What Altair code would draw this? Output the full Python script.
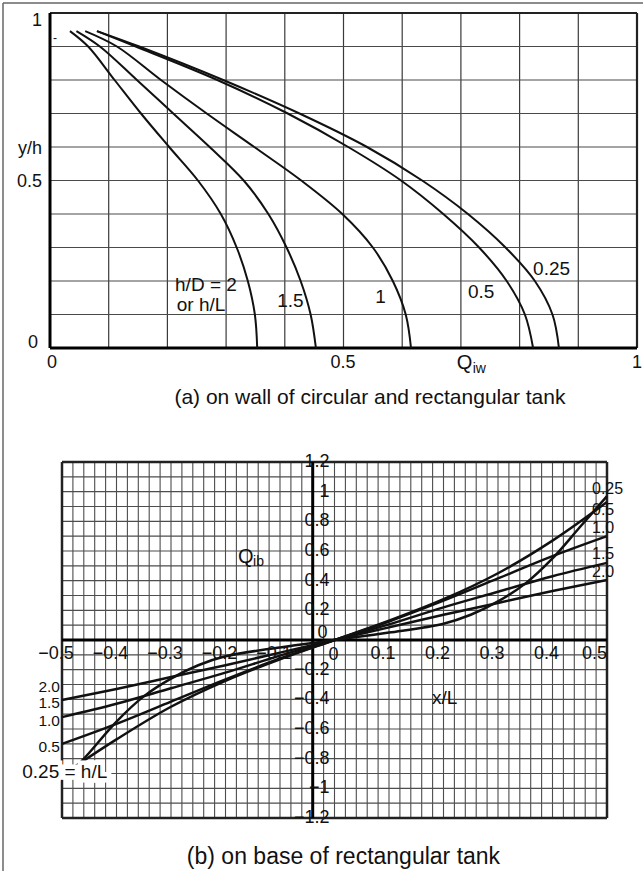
import altair as alt
import pandas as pd

FONT = "Liberation Sans"

# ---------------- panel (a): Q_iw on wall ----------------
a_y = [0.946, 0.9, 0.8, 0.7, 0.6, 0.5, 0.4, 0.3, 0.2, 0.1, 0.0]
a_x_hd2 = [0.034, 0.065, 0.110, 0.155, 0.203, 0.252, 0.291, 0.318, 0.337, 0.349, 0.353]
a_x_hd15 = [0.045, 0.085, 0.148, 0.210, 0.272, 0.330, 0.372, 0.403, 0.427, 0.444, 0.453]
a_x_hd1 = [0.060, 0.114, 0.189, 0.267, 0.348, 0.428, 0.498, 0.550, 0.584, 0.606, 0.615]
a_x_hd05 = [0.080, 0.146, 0.285, 0.405, 0.508, 0.598, 0.670, 0.731, 0.778, 0.809, 0.823]
a_x_hd025 = [0.080, 0.152, 0.295, 0.425, 0.540, 0.634, 0.712, 0.776, 0.826, 0.856, 0.867]
a_series = ["2", "1.5", "1", "0.5", "0.25"]

# ---------------- panel (b): Q_ib on base ----------------
b_x = [-0.5, -0.4, -0.3, -0.2, -0.1, 0.0, 0.1, 0.2, 0.3, 0.4, 0.5]
b_q20 = [-0.405, -0.33, -0.25, -0.17, -0.085, 0.0, 0.085, 0.17, 0.25, 0.33, 0.405]
b_q15 = [-0.52, -0.43, -0.325, -0.22, -0.105, 0.0, 0.105, 0.22, 0.325, 0.43, 0.52]
b_q10 = [-0.70, -0.565, -0.415, -0.265, -0.125, 0.0, 0.125, 0.265, 0.415, 0.565, 0.70]
b_x05 = [-0.475, -0.4, -0.3, -0.2, -0.1, 0.0, 0.1, 0.2, 0.3, 0.4, 0.5]
b_q05 = [-0.85, -0.67, -0.45, -0.275, -0.13, 0.0, 0.13, 0.275, 0.45, 0.67, 0.93]
b_x025 = [-0.475, -0.45, -0.4, -0.35, -0.3, -0.25, -0.2, -0.1, 0.0, 0.1, 0.2, 0.25, 0.3, 0.35, 0.4, 0.45, 0.5]
b_q025 = [-0.86, -0.76, -0.55, -0.38, -0.26, -0.17, -0.11, -0.05, 0.0, 0.05, 0.11, 0.17, 0.26, 0.38, 0.55, 0.76, 0.97]

# grid / tick definitions (data space)
a_grid = [round(0.1 * i, 1) for i in range(1, 10)]
b_grid_x = [round(-0.5 + 0.02 * i, 2) for i in range(1, 50)]
b_grid_y = [round(-1.2 + 0.1 * j, 1) for j in range(1, 24)]
b_xtick_vals = [-0.5, -0.4, -0.3, -0.2, -0.1, 0.1, 0.2, 0.3, 0.4]
b_xtick_text = ["\u22120.5", "\u22120.4", "\u22120.3", "\u22120.2", "\u22120.1", "0.1", "0.2", "0.3", "0.4"]
b_ytick_vals = [1.2, 1.0, 0.8, 0.6, 0.4, 0.2, -0.2, -0.4, -0.6, -0.8, -1.0, -1.2]
b_ytick_text = ["1.2", "1", "0.8", "0.6", "0.4", "0.2", "\u22120.2", "\u22120.4",
                "\u22120.6", "\u22120.8", "\u22121", "\u22121.2"]

# ---------------- scales ----------------
ax_s = alt.Scale(domain=[0, 1], range=[50, 637], nice=False, zero=False)
ay_s = alt.Scale(domain=[0, 1], range=[348, 13], nice=False, zero=False)
bx_s = alt.Scale(domain=[-0.5, 0.5], range=[62, 607], nice=False, zero=False)
by_s = alt.Scale(domain=[-1.2, 1.2], range=[818, 462], nice=False, zero=False)


def AX(f):
    return alt.X(f, type="quantitative", scale=ax_s, axis=None)


def AY(f):
    return alt.Y(f, type="quantitative", scale=ay_s, axis=None)


def BX(f):
    return alt.X(f, type="quantitative", scale=bx_s, axis=None)


def BY(f):
    return alt.Y(f, type="quantitative", scale=by_s, axis=None)


def texts(rows, xenc, yenc, size, align="left", dx=0, dy=0, **kw):
    df = pd.DataFrame(rows, columns=["t", "x", "y"])
    return alt.Chart(df).mark_text(font=FONT, fontSize=size, align=align, baseline="middle",
                                   dx=dx, dy=dy, color="#111", **kw).encode(
        x=xenc("x"), y=yenc("y"), text="t:N")


# ================= panel (a) =================
a_rows = []
for name, xs in zip(a_series, [a_x_hd2, a_x_hd15, a_x_hd1, a_x_hd05, a_x_hd025]):
    for i, (x, y) in enumerate(zip(xs, a_y)):
        a_rows.append({"s": name, "i": i, "x": x, "y": y})
a_df = pd.DataFrame(a_rows)

a_gv = pd.DataFrame({"v": a_grid, "lo": 0.0, "hi": 1.0})
a_grid_v = alt.Chart(a_gv).mark_rule(color="#3a3a3a", strokeWidth=1.2).encode(
    x=AX("v"), y=AY("lo"), y2="hi")
a_grid_h = alt.Chart(a_gv).mark_rule(color="#4a4a4a", strokeWidth=1.2).encode(
    y=AY("v"), x=AX("lo"), x2="hi")

a_frame_thick = alt.Chart(pd.DataFrame({"x": [0.0, 0.0], "x2": [0.0, 1.0], "y": [0.0, 0.0], "y2": [1.0, 0.0]})
                          ).mark_rule(color="#000", strokeWidth=3).encode(
    x=AX("x"), x2="x2", y=AY("y"), y2="y2")
a_frame_thin = alt.Chart(pd.DataFrame({"x": [0.0, 1.0], "x2": [1.0, 1.0], "y": [1.0, 0.0], "y2": [1.0, 1.0]})
                         ).mark_rule(color="#222", strokeWidth=2.2).encode(
    x=AX("x"), x2="x2", y=AY("y"), y2="y2")

a_lines = alt.Chart(a_df).mark_line(color="#111", strokeWidth=2, interpolate="catmull-rom").encode(
    x=AX("x"), y=AY("y"), detail="s:N", order="i:Q")

a_ticks_r = texts([("1", -0.0136, 0.976), ("y/h", -0.0136, 0.594), ("0.5", -0.0136, 0.495),
                   ("0", -0.0204, 0.015)], AX, AY, 18, align="right")
a_ticks_x = texts([("0", 0.0034, -0.045), ("0.5", 0.499, -0.045), ("1", 1.0, -0.045)],
                  AX, AY, 18, align="center")
a_q = texts([("Q", 0.693, -0.045)], AX, AY, 20)
a_q_sub = texts([("iw", 0.72, -0.063)], AX, AY, 14)
a_labels = texts([("h/D = 2", 0.213, 0.188), ("or h/L", 0.216, 0.128), ("1.5", 0.387, 0.14),
                  ("1", 0.554, 0.152), ("0.5", 0.712, 0.167), ("0.25", 0.823, 0.236)],
                 AX, AY, 19)
a_dash = texts([("-", 0.0085, 0.925)], AX, AY, 12, align="center")
a_caption = texts([("(a) on wall of circular and rectangular tank", 0.545, -0.149)],
                  AX, AY, 21, align="center")

panel_a = alt.layer(a_grid_v, a_grid_h, a_frame_thin, a_frame_thick, a_lines,
                    a_ticks_r, a_ticks_x, a_q, a_q_sub, a_labels, a_dash, a_caption)

# ================= panel (b) =================
b_rows = []
for name, xs, qs in [("2.0", b_x, b_q20), ("1.5", b_x, b_q15), ("1.0", b_x, b_q10),
                     ("0.5", b_x05, b_q05), ("0.25", b_x025, b_q025)]:
    for i, (x, q) in enumerate(zip(xs, qs)):
        b_rows.append({"s": name, "i": i, "x": x, "y": q})
b_df = pd.DataFrame(b_rows)

b_gv = pd.DataFrame({"v": b_grid_x, "lo": -1.2, "hi": 1.2})
b_gh = pd.DataFrame({"v": b_grid_y, "lo": -0.5, "hi": 0.5})
b_grid_v = alt.Chart(b_gv).mark_rule(color="#4d4d4d", strokeWidth=1.1).encode(
    x=BX("v"), y=BY("lo"), y2="hi")
b_grid_h = alt.Chart(b_gh).mark_rule(color="#4d4d4d", strokeWidth=1.1).encode(
    y=BY("v"), x=BX("lo"), x2="hi")

b_frame = alt.Chart(pd.DataFrame({"x": [-0.5, 0.5, -0.5, -0.5], "x2": [-0.5, 0.5, 0.5, 0.5],
                                  "y": [-1.2, -1.2, 1.2, -1.2], "y2": [1.2, 1.2, 1.2, -1.2]})
                    ).mark_rule(color="#222", strokeWidth=2.5).encode(
    x=BX("x"), x2="x2", y=BY("y"), y2="y2")
b_axes = alt.Chart(pd.DataFrame({"x": [-0.5, -0.04], "x2": [0.5, -0.04], "y": [0.0, -1.2], "y2": [0.0, 1.2]})
                   ).mark_rule(color="#000", strokeWidth=3).encode(
    x=BX("x"), x2="x2", y=BY("y"), y2="y2")

b_lines = alt.Chart(b_df).mark_line(color="#111", strokeWidth=2.5, interpolate="catmull-rom").encode(
    x=BX("x"), y=BY("y"), detail="s:N", order="i:Q")

b_xt = texts([(t, v, -0.095) for t, v in zip(b_xtick_text, b_xtick_vals)], BX, BY, 18,
             align="center", dx=-6)
b_xt_zero = texts([("0", 0.0, -0.1)], BX, BY, 18, align="center", dx=-1)
b_xt_end = texts([("0.5", 0.5, -0.095)], BX, BY, 18, align="right")
b_yt = texts([(t, 0.0, v) for t, v in zip(b_ytick_text, b_ytick_vals)], BX, BY, 18,
             align="right", dx=-5)
b_yt_zero = texts([("0", 0.0, 0.05)], BX, BY, 18, align="right", dx=-7)
b_q = texts([("Q", -0.177, 0.561)], BX, BY, 20)
b_q_sub = texts([("ib", -0.1495, 0.524)], BX, BY, 14)
b_xl = texts([("x/L", 0.179, -0.392)], BX, BY, 19)
b_right = texts([("0.25", 0.4725, 1.018), ("0.5", 0.4725, 0.878), ("1.0", 0.4725, 0.755),
                 ("1.5", 0.4725, 0.58), ("2.0", 0.4725, 0.46)], BX, BY, 16)
b_left = texts([("2.0", -0.5037, -0.315), ("1.5", -0.5037, -0.425), ("1.0", -0.5037, -0.547),
                ("0.5", -0.5037, -0.723)], BX, BY, 15.5, align="right")
b_hl_halo = texts([("0.25 = h/L", -0.573, -0.892)], BX, BY, 19, stroke="white", strokeWidth=9)
b_hl = texts([("0.25 = h/L", -0.573, -0.892)], BX, BY, 19)
b_caption = texts([("(b) on base of rectangular tank", 0.0165, -1.466)], BX, BY, 23,
                  align="center")

panel_b = alt.layer(b_grid_v, b_grid_h, b_frame, b_axes, b_lines, b_xt, b_xt_zero, b_xt_end,
                    b_yt, b_yt_zero, b_q, b_q_sub, b_xl, b_right, b_left, b_hl_halo, b_hl,
                    b_caption)

# ================= outer frame (L-shaped border of the figure) =================
one = pd.DataFrame({"k": [0]})
frame_top = alt.Chart(one).mark_rule(color="#666", strokeWidth=1.5).encode(
    x=alt.value(3), x2=alt.value(643), y=alt.value(3))
frame_left = alt.Chart(one).mark_rule(color="#666", strokeWidth=1.5).encode(
    x=alt.value(3), y=alt.value(3), y2=alt.value(871))

chart = alt.layer(panel_a, panel_b, frame_top, frame_left).resolve_scale(
    x="independent", y="independent"
).properties(
    width=643, height=871, padding=0,
    autosize=alt.AutoSizeParams(type="none"),
    background="white",
).configure_view(stroke=None)

chart.save("out.html", embed_options={"renderer": "svg", "actions": False})
